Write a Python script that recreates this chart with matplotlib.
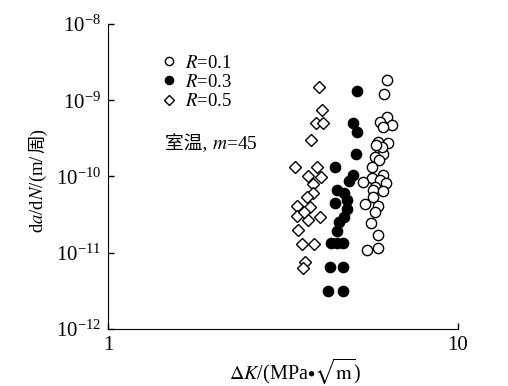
import matplotlib
matplotlib.use("Agg")
import matplotlib.pyplot as plt
from matplotlib.ticker import LogFormatterMathtext, NullLocator

plt.rcParams["font.family"] = ["Liberation Serif", "Noto Sans CJK SC"]
plt.rcParams["mathtext.fontset"] = "stix"

# R = 0.1 (open circles)
dk_r01 = [6.27, 6.15, 6.27, 5.99, 6.48, 6.11, 5.91, 6.31, 5.99, 6.11, 5.79, 5.94,
          5.68, 6.11, 5.68, 5.99, 5.35, 6.23, 5.79, 5.71, 6.11, 5.71, 5.42, 5.91,
          5.79, 5.64, 5.91, 5.91, 5.50, 6.07, 5.83]
dadn_r01 = [1.84e-9, 1.21e-9, 6.0e-10, 5.2e-10, 4.7e-10, 4.5e-10, 2.8e-10, 2.75e-10,
            2.2e-10, 2.0e-10, 1.8e-10, 1.65e-10, 1.33e-10, 1.05e-10, 9.5e-11, 9.0e-11,
            8.5e-11, 8.2e-11, 7.3e-11, 6.6e-11, 6.4e-11, 5.4e-11, 4.4e-11, 4.1e-11,
            3.4e-11, 2.45e-11, 1.7e-11, 1.15e-11, 1.09e-11, 2.45e-10, 2.6e-10]

# R = 0.3 (filled circles)
dk_r03 = [5.15, 5.01, 5.15, 5.11, 4.45, 5.01, 4.88, 4.51, 4.72, 4.82, 4.45,
          4.82, 4.72, 4.57, 4.51, 4.34, 4.51, 4.69, 4.31, 4.69, 4.25, 4.69]
dadn_r03 = [1.32e-9, 5.0e-10, 3.84e-10, 2.0e-10, 1.33e-10, 1.05e-10, 8.7e-11,
            6.6e-11, 6.1e-11, 4.9e-11, 4.5e-11, 3.75e-11, 2.94e-11, 2.53e-11,
            1.93e-11, 1.34e-11, 1.34e-11, 1.34e-11, 6.5e-12, 6.5e-12, 3.15e-12, 3.15e-12]

# R = 0.5 (open diamonds)
dk_r05 = [4.01, 4.09, 3.93, 4.11, 3.80, 3.42, 3.96, 3.73, 4.06, 3.85, 3.85,
          3.70, 3.47, 3.78, 3.47, 3.73, 4.04, 3.49, 3.58, 3.88, 3.65, 3.61, 3.63]
dadn_r05 = [1.49e-9, 7.45e-10, 5.0e-10, 5.0e-10, 3.0e-10, 1.33e-10, 1.33e-10,
            1.02e-10, 9.85e-11, 8.0e-11, 6.1e-11, 5.4e-11, 4.1e-11, 4.0e-11,
            3.0e-11, 2.7e-11, 2.94e-11, 2.0e-11, 1.3e-11, 1.3e-11, 7.6e-12, 6.3e-12, 3.4e-11]

fig = plt.figure(figsize=(5.08, 3.86), dpi=100)
ax = fig.add_axes([0.2126, 0.1477, 0.689, 0.7901])

h1, = ax.plot(dk_r01, dadn_r01, "o", ms=7.4, mfc="white", mec="black", mew=1.0,
              ls="none", label="$R$=0.1")
h2, = ax.plot(dk_r03, dadn_r03, "o", ms=7.4, mfc="black", mec="black", mew=1.0,
              ls="none", label="$R$=0.3")
h3, = ax.plot(dk_r05, dadn_r05, "D", ms=6.2, mfc="white", mec="black", mew=1.0,
              ls="none", label="$R$=0.5")
# open circles sit on top of the filled ones
h1.set_zorder(3)

ax.set_xscale("log")
ax.set_yscale("log")
ax.set_xlim(1, 10)
ax.set_ylim(1e-12, 1e-8)
ax.set_xticks([1, 10])
ax.set_xticklabels(["1", "10"])
ax.xaxis.set_minor_locator(NullLocator())
ax.yaxis.set_minor_locator(NullLocator())
ax.set_yticks([1e-12, 1e-11, 1e-10, 1e-9, 1e-8])
ax.yaxis.set_major_formatter(LogFormatterMathtext())
ax.tick_params(direction="in", length=4, width=1, labelsize=15, pad=5)

for side in ["top", "right"]:
    ax.spines[side].set_visible(False)

ax.legend(handles=[h1, h2, h3], loc="upper left",
          bbox_to_anchor=(0.153, 0.9), frameon=False, fontsize=13.5,
          handlelength=0.8, handletextpad=0.45, labelspacing=0.12,
          borderpad=0, borderaxespad=0, markerscale=0.8)

t_room = fig.text(165 / 508, 1 - 149 / 386, "室温, ", fontsize=13.5,
                  ha="left", va="baseline")
ax.annotate("$m$=45", xy=(1.0, 1 - 149 / 386), xycoords=(t_room, "figure fraction"),
            fontsize=14, ha="left", va="baseline", annotation_clip=False)

# y label: italic letters via mathtext, Chinese character appended after it
t_y = fig.text(43 / 508, 1 - 233 / 386, "d$a$/d$N$/(m/", fontsize=13.5,
               rotation=90, rotation_mode="anchor", ha="left", va="baseline")
ax.annotate("周)", xy=(43 / 508, 1.0), xycoords=("figure fraction", t_y),
            xytext=(0, 0.3), textcoords="offset points",
            fontsize=13.5, rotation=90, rotation_mode="anchor",
            ha="left", va="baseline", annotation_clip=False)

fig.text(295 / 508, 1 - 371 / 386, r"$\Delta K$/(MPa$\bullet\sqrt{\mathrm{m}}$)",
         fontsize=14.5, ha="center", va="center")

fig.savefig("out.png", dpi=100)
